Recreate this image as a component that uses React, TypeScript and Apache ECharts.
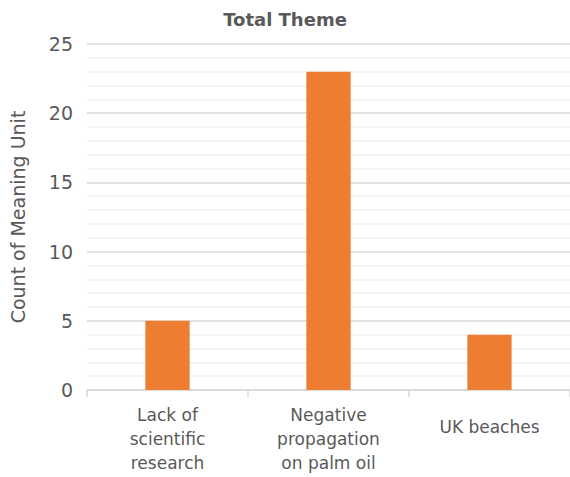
import React, { useEffect, useRef } from "react";
import * as echarts from "echarts";

const categories = ["Lack of\nscientific\nresearch", "Negative\npropagation\non palm oil", "UK beaches"];
const values = [5, 23, 4];
const title = "Total Theme";
const yName = "Count of Meaning Unit";

const FONT = "'DejaVu Sans', sans-serif";
const TXT = "#595959";

export default function App() {
  const ref = useRef<HTMLDivElement>(null);
  useEffect(() => {
    if (!ref.current) return;
    const chart = echarts.init(ref.current, undefined, { renderer: "svg" });
    chart.setOption({
      animation: false,
      backgroundColor: "#ffffff",
      title: {
        text: title,
        left: "center",
        top: 5,
        textStyle: { fontFamily: FONT, fontSize: 18, fontWeight: "bold", color: TXT },
      },
      grid: { left: 78, right: 0, top: 44, bottom: 87, containLabel: false },
      xAxis: {
        type: "category",
        data: categories.map((c) =>
          c === "UK beaches" ? { value: c, textStyle: { padding: [12, 0, 0, 0] } } : c
        ),
        axisLine: { lineStyle: { color: "#d9d9d9", width: 1.5 } },
        axisTick: { show: true, length: 7, lineStyle: { color: "#d9d9d9", width: 1.5 } },
        axisLabel: {
          fontFamily: FONT,
          fontSize: 17,
          color: TXT,
          lineHeight: 24,
          margin: 13,
          interval: 0,
        },
      },
      yAxis: {
        type: "value",
        min: 0,
        max: 25,
        interval: 5,
        name: yName,
        nameLocation: "middle",
        nameGap: 60,
        nameTextStyle: { fontFamily: FONT, fontSize: 19, color: TXT },
        axisLine: { show: false },
        axisTick: { show: false },
        axisLabel: { fontFamily: FONT, fontSize: 19, color: TXT, margin: 14 },
        splitLine: { lineStyle: { color: "#d9d9d9", width: 1.5 } },
        minorTick: { show: false, splitNumber: 5 },
        minorSplitLine: { show: true, lineStyle: { color: "#f0f0f0", width: 1.5 } },
      },
      series: [
        {
          type: "bar",
          data: values,
          barWidth: "27.5%",
          itemStyle: { color: "#ED7D31" },
        },
      ],
    });
    return () => chart.dispose();
  }, []);
  return (
    <div
      ref={ref}
      style={{ position: "fixed", left: 0, top: 0, width: 570, height: 477 }}
    />
  );
}
